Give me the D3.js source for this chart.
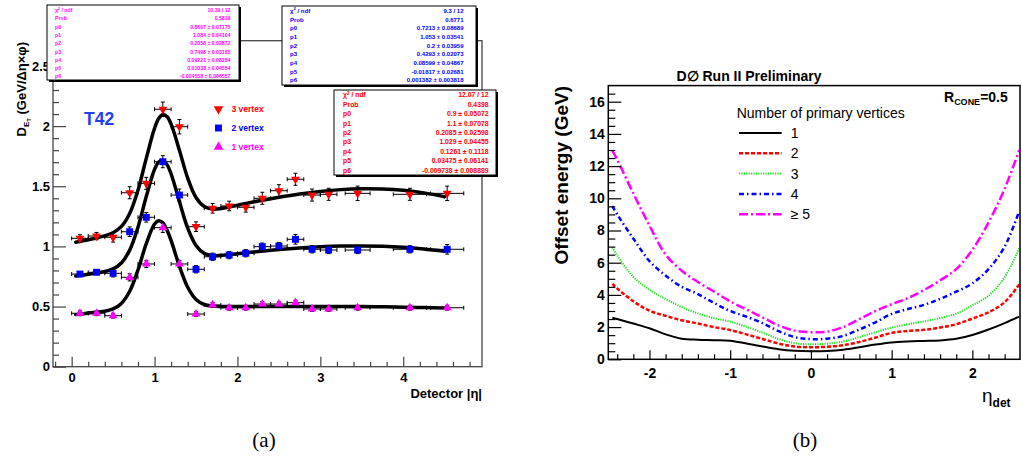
<!DOCTYPE html>
<html><head><meta charset="utf-8">
<script src="https://cdn.jsdelivr.net/npm/d3@7"></script>
<style>body{margin:0;background:#fff}svg{display:block}</style>
</head><body>
<svg id="c" width="1022" height="457"></svg>
<script>
// ================= DATA: panel (a) =================
const etaCenters = [0.1,0.3,0.5,0.7,0.9,1.1,1.3,1.5,1.7,1.9,2.1,2.3,2.5,2.7,2.9,3.1,3.45,4.08,4.53];
const etaHalfWidth = [0.1,0.1,0.1,0.1,0.1,0.1,0.1,0.1,0.1,0.1,0.1,0.1,0.1,0.1,0.1,0.1,0.15,0.2,0.2];
const vtx3 = [1.067,1.086,1.076,1.446,1.524,2.14,1.995,1.164,1.317,1.336,1.325,1.40,1.463,1.558,1.427,1.433,1.441,1.433,1.441];
const vtx3Err = [0.03,0.03,0.04,0.05,0.05,0.06,0.06,0.04,0.04,0.04,0.04,0.05,0.05,0.05,0.05,0.05,0.06,0.05,0.06];
const vtx2 = [0.770,0.785,0.776,1.122,1.242,1.704,1.427,0.81,0.914,0.928,0.943,0.998,1.003,1.059,0.976,0.970,0.970,0.976,0.976];
const vtx2Err = [0.02,0.02,0.03,0.04,0.04,0.05,0.05,0.03,0.03,0.03,0.03,0.03,0.03,0.04,0.03,0.03,0.03,0.03,0.04];
const vtx1 = [0.444,0.444,0.424,0.743,0.854,1.156,0.854,0.438,0.513,0.49,0.49,0.521,0.521,0.532,0.48,0.48,0.49,0.49,0.49];
const vtx1Err = [0.02,0.02,0.02,0.03,0.03,0.04,0.03,0.02,0.02,0.02,0.02,0.02,0.02,0.02,0.02,0.02,0.02,0.02,0.02];

const fitEta = [0.05,0.2,0.4,0.5,0.6,0.7,0.8,0.9,1.0,1.05,1.1,1.15,1.2,1.3,1.4,1.5,1.6,1.7,1.8,2.0,2.25,2.5,2.75,3.0,3.25,3.5,3.75,4.0,4.25,4.5];
const fit3 = [1.035,1.056,1.088,1.114,1.166,1.274,1.467,1.732,1.982,2.063,2.097,2.080,2.016,1.799,1.567,1.406,1.331,1.310,1.315,1.342,1.378,1.409,1.436,1.457,1.472,1.479,1.477,1.466,1.445,1.413];
const fit2 = [0.754,0.769,0.791,0.813,0.862,0.969,1.160,1.415,1.640,1.702,1.716,1.680,1.602,1.373,1.152,1.008,0.942,0.924,0.925,0.939,0.958,0.974,0.987,0.997,1.003,1.004,1.001,0.993,0.979,0.960];
const fit1 = [0.433,0.446,0.462,0.480,0.526,0.627,0.804,1.023,1.186,1.213,1.196,1.136,1.048,0.836,0.660,0.559,0.517,0.504,0.501,0.500,0.500,0.501,0.501,0.501,0.500,0.500,0.498,0.495,0.492,0.488];

const leftXTicks = [0,1,2,3,4];
const leftYTicks = [0,0.5,1,1.5,2,2.5];
const legendA = ["3 vertex","2 vertex","1 vertex"];

const statLabels = ["chi","Prob","p0","p1","p2","p3","p4","p5","p6"];
const statMagenta = ["10.39 / 12","0.5819","0.8607 ± 0.07175","1.084 ± 0.04104","0.2058 ± 0.02872","0.7498 ± 0.03165","0.09221 ± 0.08284","0.01038 ± 0.04554","-0.004558 ± 0.006557"];
const statBlue = ["9.3 / 12","0.6771","0.7213 ± 0.08689","1.053 ± 0.03541","0.2 ± 0.03959","0.4293 ± 0.02073","0.08599 ± 0.04867","-0.01817 ± 0.02681","0.001382 ± 0.003818"];
const statRed = ["12.07 / 12","0.4398","0.9 ± 0.05072","1.1 ± 0.07078","0.2085 ± 0.02598","1.029 ± 0.04455","0.1261 ± 0.1118","0.03475 ± 0.06141","-0.009738 ± 0.008889"];

// ================= DATA: panel (b) =================
const etaDet = [-2.46,-2.4,-2.2,-2.0,-1.8,-1.6,-1.4,-1.2,-1.0,-0.8,-0.6,-0.4,-0.2,0,0.2,0.4,0.6,0.8,1.0,1.2,1.4,1.6,1.8,2.0,2.2,2.4,2.58];
const off1 = [2.58,2.50,2.22,1.93,1.55,1.28,1.22,1.19,1.15,0.98,0.80,0.63,0.53,0.50,0.52,0.60,0.75,0.92,1.05,1.11,1.14,1.17,1.27,1.51,1.85,2.25,2.65];
const off2 = [4.68,4.40,3.60,3.02,2.70,2.42,2.22,2.00,1.82,1.55,1.26,0.98,0.80,0.75,0.78,0.88,1.08,1.35,1.64,1.76,1.83,1.97,2.18,2.53,2.92,3.55,4.65];
const off3 = [6.96,6.45,5.12,4.32,3.75,3.24,2.85,2.55,2.34,2.02,1.66,1.26,1.00,0.93,0.97,1.10,1.38,1.68,1.97,2.17,2.35,2.56,2.84,3.35,3.95,5.10,6.90];
const off4 = [9.52,9.00,7.50,6.10,5.20,4.50,4.05,3.50,3.00,2.65,2.25,1.75,1.38,1.25,1.28,1.45,1.85,2.30,2.82,3.12,3.38,3.75,4.20,4.72,5.60,7.00,9.20];
const off5 = [12.96,12.40,10.30,8.30,6.50,5.50,4.80,4.20,3.60,3.10,2.60,2.10,1.78,1.68,1.72,2.00,2.50,3.00,3.42,3.80,4.30,4.90,5.60,6.80,8.50,10.60,13.00];
const legendB = ["1","2","3","4","≥ 5"];
const rightXTicks = [-2,-1,0,1,2];
const rightYTicks = [0,2,4,6,8,10,12,14,16];

// ================= DRAW =================
const svg = d3.select("#c");
const SANS = "'Liberation Sans', Arial, Helvetica, sans-serif";

// ---------- Panel (a) ----------
const xL = d3.scaleLinear().domain([-0.225, 4.95]).range([53, 482]);
const yL = d3.scaleLinear().domain([0, 2.71]).range([366.7, 40.7]);
const gA = svg.append("g");

gA.append("rect").attr("x", xL(-0.225)).attr("y", yL(2.71))
  .attr("width", xL(4.95) - xL(-0.225)).attr("height", yL(0) - yL(2.71))
  .attr("fill", "none").attr("stroke", "#444").attr("stroke-width", 1.3);

function styleAxis(g, size, color) {
  g.select(".domain").remove();
  g.selectAll("line").attr("stroke", color).attr("stroke-width", 1.2);
  g.selectAll("text").attr("font-family", SANS).attr("font-weight", "bold")
    .attr("font-size", size).attr("fill", "#000");
}
const xAxA = gA.append("g").attr("transform", `translate(0,${yL(0)})`)
  .call(d3.axisBottom(xL).tickValues(leftXTicks).tickSize(-10).tickPadding(6).tickFormat(d => String(d)));
styleAxis(xAxA, 13, "#444");
const xMinA = gA.append("g").attr("transform", `translate(0,${yL(0)})`)
  .call(d3.axisBottom(xL).tickValues(d3.range(-0.2, 4.9, 0.2).filter(v => Math.abs(v - Math.round(v)) > 0.01)).tickSize(-5).tickFormat(""));
styleAxis(xMinA, 13, "#444");
const yAxA = gA.append("g").attr("transform", `translate(${xL(-0.225)},0)`)
  .call(d3.axisLeft(yL).tickValues(leftYTicks).tickSize(-13).tickPadding(3).tickFormat(d => String(d)));
styleAxis(yAxA, 13, "#444");
const yMinA = gA.append("g").attr("transform", `translate(${xL(-0.225)},0)`)
  .call(d3.axisLeft(yL).tickValues(d3.range(0.1, 2.71, 0.1).filter(v => Math.abs(v * 2 - Math.round(v * 2)) > 0.01)).tickSize(-6).tickFormat(""));
styleAxis(yMinA, 13, "#444");

// fit curves
const lineA = d3.line().x(d => xL(d[0])).y(d => yL(d[1])).curve(d3.curveCatmullRom);
[fit3, fit2, fit1].forEach(arr => {
  gA.append("path").attr("d", lineA(fitEta.map((e, i) => [e, arr[i]])))
    .attr("fill", "none").attr("stroke", "#000").attr("stroke-width", 3.5).attr("stroke-linecap", "round");
});

// error bars + markers
const seriesA = [
  {v: vtx3, e: vtx3Err, color: "#ff0000", sym: "down"},
  {v: vtx2, e: vtx2Err, color: "#0000ff", sym: "square"},
  {v: vtx1, e: vtx1Err, color: "#ff00ff", sym: "up"}
];
seriesA.forEach(s => {
  const g = gA.append("g");
  etaCenters.forEach((c, i) => {
    const x = xL(c), y = yL(s.v[i]);
    const x0 = xL(c - etaHalfWidth[i]), x1 = xL(c + etaHalfWidth[i]);
    const y0 = yL(s.v[i] - s.e[i]), y1 = yL(s.v[i] + s.e[i]);
    const st = sel => sel.attr("stroke", "#000").attr("stroke-width", 1);
    st(g.append("line").attr("x1", x0).attr("x2", x1).attr("y1", y).attr("y2", y));
    st(g.append("line").attr("x1", x).attr("x2", x).attr("y1", y0).attr("y2", y1));
    st(g.append("line").attr("x1", x0).attr("x2", x0).attr("y1", y - 2).attr("y2", y + 2));
    st(g.append("line").attr("x1", x1).attr("x2", x1).attr("y1", y - 2).attr("y2", y + 2));
    st(g.append("line").attr("x1", x - 2).attr("x2", x + 2).attr("y1", y0).attr("y2", y0));
    st(g.append("line").attr("x1", x - 2).attr("x2", x + 2).attr("y1", y1).attr("y2", y1));
  });
  etaCenters.forEach((c, i) => {
    const x = xL(c), y = yL(s.v[i]);
    let p;
    if (s.sym === "square") p = g.append("path").attr("d", d3.symbol(d3.symbolSquare, 48)());
    else p = g.append("path").attr("d", d3.symbol(d3.symbolTriangle, 34)());
    p.attr("fill", s.color).attr("transform", `translate(${x},${y})` + (s.sym === "down" ? " rotate(180)" : ""));
  });
});

// legend (a)
const legA = gA.append("g");
[["#ff0000","down"],["#0000ff","square"],["#ff00ff","up"]].forEach((d, i) => {
  const y = 109 + i * 19;
  legA.append("path").attr("d", d3.symbol(d[1] === "square" ? d3.symbolSquare : d3.symbolTriangle, d[1] === "square" ? 48 : 40)())
    .attr("fill", d[0]).attr("transform", `translate(218.5,${y})` + (d[1] === "down" ? " rotate(180)" : ""));
  legA.append("text").attr("x", 231.5).attr("y", y + 3).text(legendA[i])
    .attr("font-family", SANS).attr("font-weight", "bold").attr("font-size", 8.5).attr("fill", d[0]);
});

// T42
gA.append("text").attr("x", 84).attr("y", 124.5).text("T42").attr("font-family", SANS)
  .attr("font-weight", "bold").attr("font-size", 17.5).attr("fill", "#2040f0");

// axis titles (a)
const yt = gA.append("text").attr("transform", "translate(25.5,42) rotate(-90)").attr("text-anchor", "end")
  .attr("font-family", SANS).attr("font-weight", "bold").attr("font-size", 13);
yt.append("tspan").text("D");
yt.append("tspan").attr("font-size", 8).attr("dy", 3).text("E");
yt.append("tspan").attr("font-size", 6).attr("dy", 2).text("T");
yt.append("tspan").attr("dy", -5).text(" (GeV/Δη×φ)");
gA.append("text").attr("x", 482).attr("y", 397.5).attr("text-anchor", "end").text("Detector |η|")
  .attr("font-family", SANS).attr("font-weight", "bold").attr("font-size", 13);

// stat boxes
function statBox(x0, y0, w, h, color, vals, fs, rowY0, rowDy, labX, valX) {
  const g = svg.append("g");
  g.append("rect").attr("x", x0 + 2).attr("y", y0 + 2).attr("width", w).attr("height", h).attr("fill", "#000");
  g.append("rect").attr("x", x0).attr("y", y0).attr("width", w).attr("height", h).attr("fill", "#fff").attr("stroke", "#000").attr("stroke-width", 1);
  statLabels.forEach((l, i) => {
    const y = rowY0 + i * rowDy + fs * 0.35;
    const t = g.append("text").attr("x", labX).attr("y", y).attr("font-family", SANS).attr("font-weight", "bold")
      .attr("font-size", fs).attr("fill", color);
    if (l === "chi") {
      t.append("tspan").text("χ");
      t.append("tspan").attr("font-size", fs * 0.7).attr("dy", -fs * 0.4).text("2");
      t.append("tspan").attr("dy", fs * 0.4).text(" / ndf");
    } else t.text(l);
    g.append("text").attr("x", valX).attr("y", y).attr("text-anchor", "end").text(vals[i])
      .attr("font-family", SANS).attr("font-weight", "bold").attr("font-size", fs).attr("fill", color);
  });
}
statBox(47, 5, 192, 75, "#ff00ff", statMagenta, 5.2, 10.2, 8.3, 55, 230.5);
statBox(282, 6, 194, 79, "#0000ff", statBlue, 6, 10.7, 8.7, 290, 463.5);
statBox(334, 90, 162, 85, "#ff0000", statRed, 6.8, 95, 9.4, 343, 488.5);

// caption (a)
svg.append("text").attr("x", 264).attr("y", 447).attr("text-anchor", "middle").text("(a)")
  .attr("font-family", "'Liberation Serif', 'DejaVu Serif', serif").attr("font-size", 21);

// ---------- Panel (b) ----------
const xR = d3.scaleLinear().domain([-2.51, 2.59]).range([608.3, 1020]);
const yR = d3.scaleLinear().domain([0, 17]).range([359.3, 85.6]);
const gB = svg.append("g");

svg.append("defs").append("clipPath").attr("id", "clipB").append("rect")
  .attr("x", xR(-2.51)).attr("y", yR(17)).attr("width", xR(2.59) - xR(-2.51)).attr("height", yR(0) - yR(17));

const lineB = d3.line().x(d => xR(d[0])).y(d => yR(d[1])).curve(d3.curveCatmullRom);
const stylesB = [
  {c: "#000000", w: 2, dash: null},
  {c: "#ff0000", w: 2.5, dash: "4,2"},
  {c: "#22dd22", w: 2, dash: "1.2,1.2"},
  {c: "#0000ff", w: 2.5, dash: "5,3,1.5,3"},
  {c: "#ff00ff", w: 2.5, dash: "9,3,2,3"}
];
[off1, off2, off3, off4, off5].forEach((arr, k) => {
  const p = gB.append("path").attr("clip-path", "url(#clipB)")
    .attr("d", lineB(etaDet.map((e, i) => [e, arr[i]])))
    .attr("fill", "none").attr("stroke", stylesB[k].c).attr("stroke-width", stylesB[k].w);
  if (stylesB[k].dash) p.attr("stroke-dasharray", stylesB[k].dash);
});

gB.append("rect").attr("x", xR(-2.51)).attr("y", yR(17)).attr("width", xR(2.59) - xR(-2.51)).attr("height", yR(0) - yR(17))
  .attr("fill", "none").attr("stroke", "#000").attr("stroke-width", 1.5);

const xAxB = gB.append("g").attr("transform", `translate(0,${yR(0)})`)
  .call(d3.axisBottom(xR).tickValues(rightXTicks).tickSize(-9).tickPadding(8.4).tickFormat(d => String(d)));
styleAxis(xAxB, 14, "#000");
const xMinB = gB.append("g").attr("transform", `translate(0,${yR(0)})`)
  .call(d3.axisBottom(xR).tickValues(d3.range(-2.4, 2.5, 0.2).filter(v => Math.abs(v - Math.round(v)) > 0.01)).tickSize(-5).tickFormat(""));
styleAxis(xMinB, 14, "#000");
const yAxB = gB.append("g").attr("transform", `translate(${xR(-2.51)},0)`)
  .call(d3.axisLeft(yR).tickValues(rightYTicks).tickSize(-13).tickPadding(3.5).tickFormat(d => String(d)));
styleAxis(yAxB, 14, "#000");
const yMinB = gB.append("g").attr("transform", `translate(${xR(-2.51)},0)`)
  .call(d3.axisLeft(yR).tickValues(d3.range(0.5, 17, 0.5).filter(v => v % 2 !== 0)).tickSize(-7).tickFormat(""));
styleAxis(yMinB, 14, "#000");

// titles (b)
gB.append("text").attr("x", 749).attr("y", 81).attr("text-anchor", "middle").text("D∅ Run II Preliminary")
  .attr("font-family", SANS).attr("font-weight", "bold").attr("font-size", 14);
const rc = gB.append("text").attr("x", 944).attr("y", 101.7).attr("font-family", SANS).attr("font-weight", "bold").attr("font-size", 14);
rc.append("tspan").text("R");
rc.append("tspan").attr("font-size", 9).attr("dy", 3).text("CONE");
rc.append("tspan").attr("dy", -3).text("=0.5");

gB.append("text").attr("transform", "translate(568,86) rotate(-90)").attr("text-anchor", "end")
  .text("Offset energy (GeV)").attr("font-family", SANS).attr("font-weight", "bold").attr("font-size", 19);
const et = gB.append("text").attr("x", 982).attr("y", 402).attr("font-family", SANS).attr("font-size", 19);
et.append("tspan").text("η");
et.append("tspan").attr("font-size", 12).attr("font-weight", "bold").attr("dy", 5).text("det");

// legend (b)
gB.append("text").attr("x", 736.7).attr("y", 117.7).text("Number of primary vertices")
  .attr("font-family", SANS).attr("font-size", 14);
legendB.forEach((l, k) => {
  const y = 133 + k * 20.3;
  const ln = gB.append("line").attr("x1", 739).attr("x2", 781.7).attr("y1", y).attr("y2", y)
    .attr("stroke", stylesB[k].c).attr("stroke-width", stylesB[k].w);
  if (stylesB[k].dash) ln.attr("stroke-dasharray", stylesB[k].dash);
  gB.append("text").attr("x", 790.7).attr("y", y + 5).text(l).attr("font-family", SANS).attr("font-size", 14);
});

svg.append("text").attr("x", 805).attr("y", 447).attr("text-anchor", "middle").text("(b)")
  .attr("font-family", "'Liberation Serif', 'DejaVu Serif', serif").attr("font-size", 21);
</script>
</body></html>
